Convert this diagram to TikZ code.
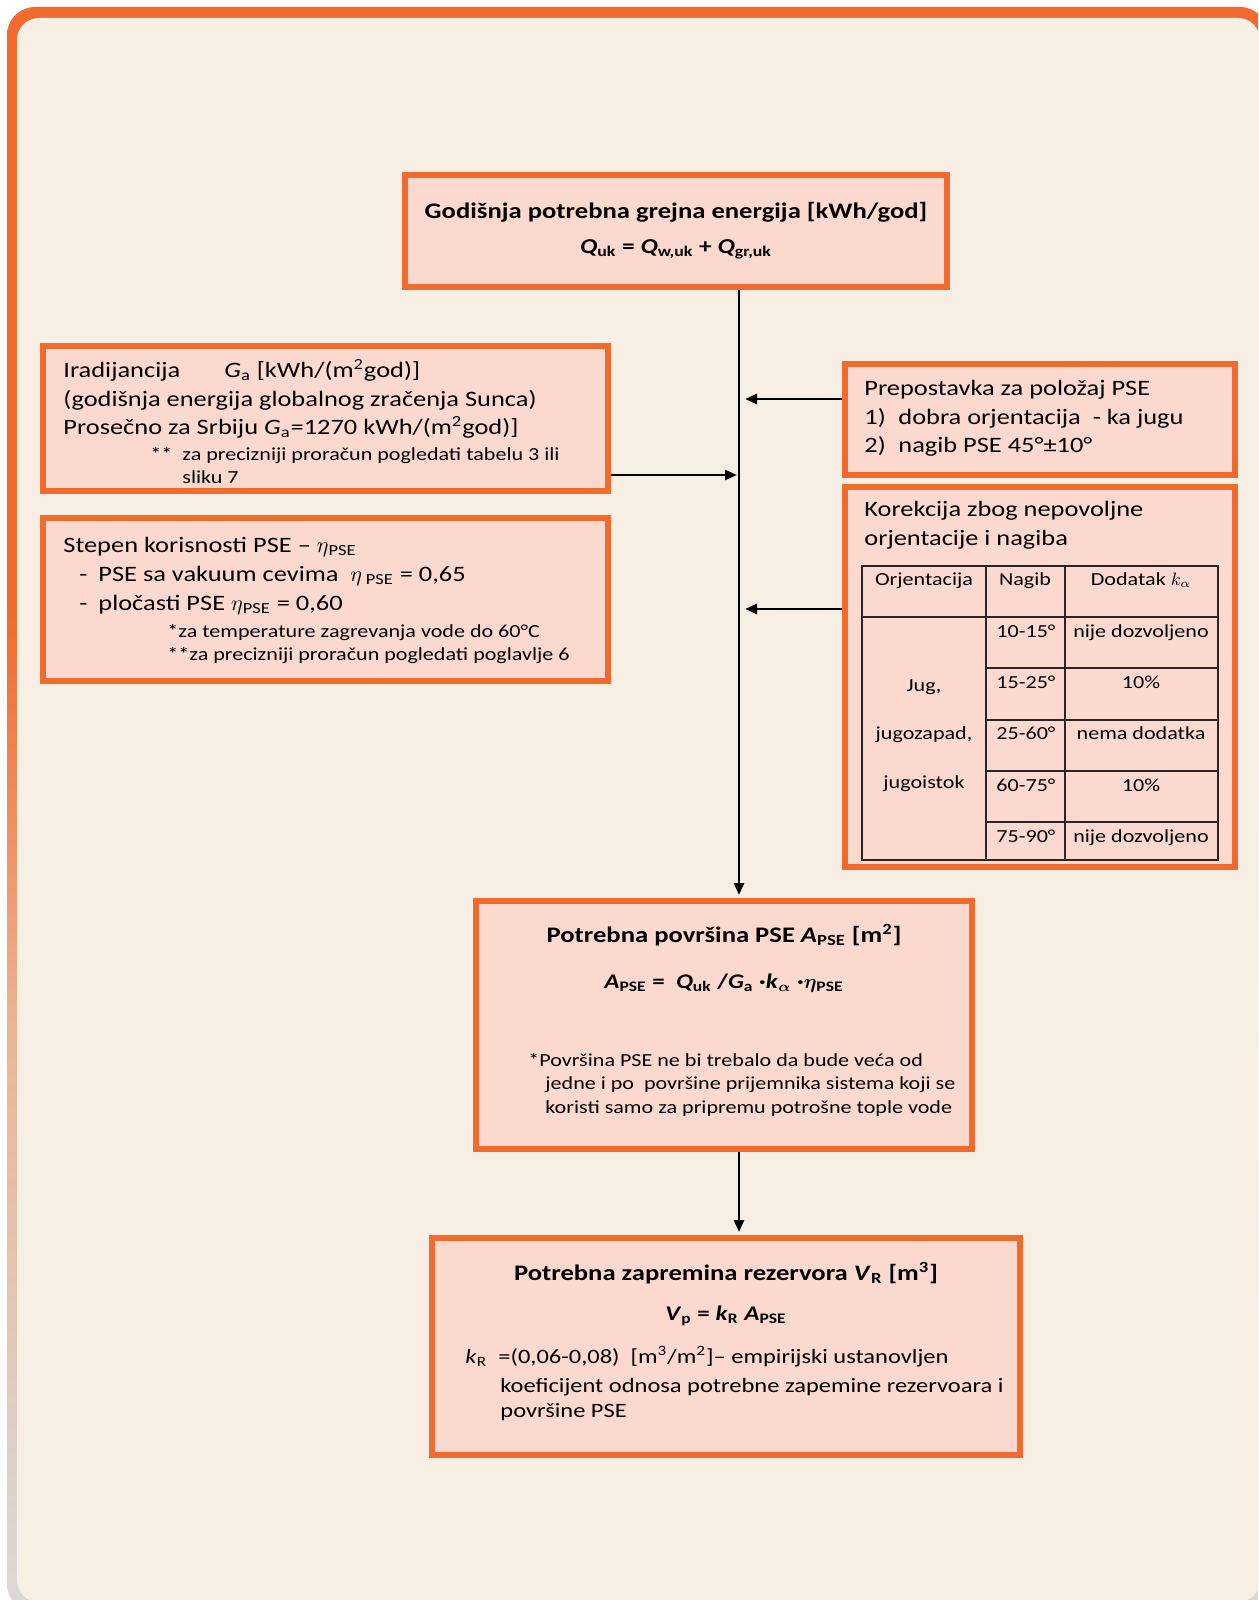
\documentclass[tikz,border=0pt]{standalone}
\usepackage{amsmath}
\usepackage{fontspec}
\setmainfont{Carlito}[FakeStretch=1.2]
\usetikzlibrary{arrows.meta,fit}
\definecolor{org}{HTML}{F26A2E}
\definecolor{boxfill}{HTML}{FCD9CF}
\definecolor{bg}{HTML}{F7EEE4}
\definecolor{frgrey}{HTML}{D9D9D9}
\definecolor{frmid}{HTML}{EBB596}
\pgfdeclareverticalshading{frameshade}{100bp}{color(0bp)=(frgrey); color(25bp)=(frgrey); color(43bp)=(frmid); color(56bp)=(org); color(75bp)=(org); color(100bp)=(org)}
\begin{document}
\begin{tikzpicture}[x=0.5pt,y=-0.5pt,
  box/.style={draw=org, line width=3pt, fill=boxfill, inner sep=0pt},
  txt/.style={anchor=base west, inner sep=0pt, font=\fontsize{11}{13}\selectfont},
  ttl/.style={anchor=base, inner sep=0pt, font=\bfseries\fontsize{11.1}{14}\selectfont},
  frm/.style={anchor=base, inner sep=0pt, font=\bfseries\fontsize{10.4}{12}\selectfont},
  fn/.style={anchor=base west, inner sep=0pt, font=\fontsize{9.2}{11}\selectfont},
  tab/.style={anchor=base, inner sep=0pt, font=\fontsize{9.2}{11}\selectfont},
  tabl/.style={anchor=base west, inner sep=0pt, font=\fontsize{9.2}{11}\selectfont},
  zt/.style={anchor=base west, inner sep=0pt, font=\fontsize{10.2}{13}\selectfont},
  arr/.style={line width=1.25pt, -{Triangle[length=6pt,width=5pt]}},
  grid/.style={line width=0.7pt, draw=black!85}
]
\useasboundingbox (0,0) rectangle (1258,1600);
\begin{scope}
\clip (0,0) rectangle (1258,1600);
\shade[shading=frameshade, rounded corners=14pt]
  (7,7) rectangle (1268,1612);
\fill[bg, rounded corners=11pt] (17,18) rectangle (1260,1602);
\end{scope}

% ---------- top box
\node[box, fit={(405,175)(947,287)}] (qbox) {};
\node[ttl] (qt) at (676,218) {Godišnja potrebna grejna energija [kWh/god]};
\node[frm, font=\bfseries\fontsize{10.6}{12}\selectfont] (qf) at (676,253) {\textit{Q}\textsubscript{uk} = \textit{Q}\textsubscript{w,uk} + \textit{Q}\textsubscript{gr,uk}};

% ---------- Iradijancija
\node[box, fit={(43,346)(608,491)}] (ira) {};
\node[txt] (i1a) at (63,377) {Iradijancija};
\node[txt] (i1b) at (224,377) {\textit{G}\textsubscript{a} [kWh/(m\textsuperscript{2}god)]};
\node[txt] (i2) at (63,406) {(godišnja energija globalnog zračenja Sunca)};
\node[txt] (i3) at (63,434) {Prosečno za Srbiju \textit{G}\textsubscript{a}=1270 kWh/(m\textsuperscript{2}god)]};
\node[fn] (i4a) at (150,460) {**};
\node[fn] (i4b) at (182,460) {za precizniji proračun pogledati tabelu 3 ili};
\node[fn] (i5) at (182,483) {sliku 7};

% ---------- Stepen korisnosti
\node[box, fit={(43,518)(608,681)}] (step) {};
\node[txt] (s1) at (63,552) {Stepen korisnosti PSE – $\eta$\textsubscript{PSE}};
\node[txt] (s2a) at (79,581) {-};
\node[txt] (s2b) at (98,581) {PSE sa vakuum cevima\ \ $\eta$\,\textsubscript{PSE} = 0,65};
\node[txt] (s3a) at (79,610) {-};
\node[txt] (s3b) at (98,610) {pločasti PSE $\eta$\textsubscript{PSE} = 0,60};
\node[fn] (s4) at (167,637) {*za temperature zagrevanja vode do 60°C};
\node[fn] (s5) at (167,660) {**za precizniji proračun pogledati poglavlje 6};

% ---------- Prepostavka
\node[box, fit={(845,364)(1235,475)}] (prep) {};
\node[txt] (p1) at (864,395) {Prepostavka za položaj PSE};
\node[txt] (p2a) at (864,424) {1)};
\node[txt] (p2b) at (898,424) {dobra orjentacija\ \ - ka jugu};
\node[txt] (p3a) at (864,452) {2)};
\node[txt] (p3b) at (898,452) {nagib PSE 45°±10°};

% ---------- Korekcija
\node[box, fit={(845,487)(1235,867)}] (kor) {};
\node[txt] (k1) at (864,516) {Korekcija zbog nepovoljne};
\node[txt] (k2) at (864,545) {orjentacije i nagiba};
\draw[grid] (862,566) rectangle (1218,860);
\draw[grid] (986,566) -- (986,860);
\draw[grid] (1065,566) -- (1065,860);
\draw[grid] (862,617) -- (1218,617);
\foreach \yy in {668,720,771,822} \draw[grid] (986,\yy) -- (1218,\yy);
\node[tab] (h1) at (924,585) {Orjentacija};
\node[tab] (h2) at (1025,585) {Nagib};
\node[tab] (h3) at (1141,585) {Dodatak $k_\alpha$};
\node[tabl] (n1) at (996,637) {10-15°};
\node[tabl] (n2) at (996,688) {15-25°};
\node[tabl] (n3) at (996,739) {25-60°};
\node[tabl] (n4) at (996,791) {60-75°};
\node[tabl] (n5) at (996,842) {75-90°};
\node[tab] (d1) at (1141,637) {nije dozvoljeno};
\node[tab] (d2) at (1141,688) {10\%};
\node[tab] (d3) at (1141,739) {nema dodatka};
\node[tab] (d4) at (1141,791) {10\%};
\node[tab] (d5) at (1141,842) {nije dozvoljeno};
\node[tab] (o1) at (924,691) {Jug,};
\node[tab] (o2) at (924,739) {jugozapad,};
\node[tab] (o3) at (924,788) {jugoistok};

% ---------- Potrebna povrsina
\node[box, fit={(476,901)(972,1149)}] (pov) {};
\node[ttl] (pt) at (724,942) {Potrebna površina PSE \textit{A}\textsubscript{PSE} [m\textsuperscript{2}]};
\node[frm] (pf) at (724,988) {\textit{A}\textsubscript{PSE} =\ \ \textit{Q}\textsubscript{uk} /\textit{G}\textsubscript{a} ·\textit{k}$_{\boldsymbol{\alpha}}$ ·$\boldsymbol{\eta}$\textsubscript{PSE}};
\node[fn] (pn1) at (528,1066) {*Površina PSE ne bi trebalo da bude veća od};
\node[fn] (pn2) at (545,1089) {jedne i po\ \ površine prijemnika sistema koji se};
\node[fn] (pn3) at (545,1113) {koristi samo za pripremu potrošne tople vode};

% ---------- Potrebna zapremina
\node[box, fit={(432,1238)(1020,1455)}] (zap) {};
\node[ttl] (zt1) at (726,1280) {Potrebna zapremina rezervora \textit{V}\textsubscript{R} [m\textsuperscript{3}]};
\node[frm] (zf) at (726,1320) {\textit{V}\textsubscript{p} = \textit{k}\textsubscript{R} \textit{A}\textsubscript{PSE}};
\node[zt] (z1a) at (465,1363) {\textit{k}\textsubscript{R}};
\node[zt] (z1b) at (498,1363) {=(0,06-0,08)\ \ [m\textsuperscript{3}/m\textsuperscript{2}]– empirijski ustanovljen};
\node[zt] (z2) at (500,1392) {koeficijent odnosa potrebne zapemine rezervoara i};
\node[zt] (z3) at (500,1417) {površine PSE};

% ---------- connectors
\coordinate (vx) at (739,0);
\coordinate (j1) at (745,399);
\coordinate (j2) at (737,475);
\coordinate (j3) at (745,609);
\draw[arr, shorten >=1.5pt] (qbox.south -| vx) -- (pov.north -| vx);
\draw[arr, shorten >=1.5pt] (pov.south -| vx) -- (zap.north -| vx);
\draw[arr] (prep.west |- j1) -- (j1);
\draw[arr] (ira.east |- j2) -- (j2);
\draw[arr] (kor.west |- j3) -- (j3);
\end{tikzpicture}
\end{document}
